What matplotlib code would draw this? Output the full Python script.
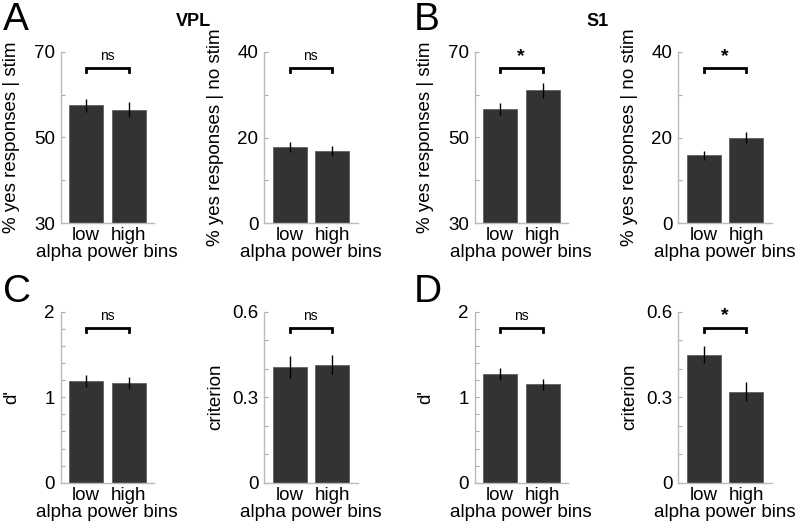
import numpy as np
import matplotlib.pyplot as plt

plt.rcParams['font.family'] = ['Liberation Sans', 'DejaVu Sans']

bins = ['low', 'high']

# panel A (VPL)
vpl_stim = [57.5, 56.5]
vpl_stim_err = [1.6, 1.75]
vpl_nostim = [17.8, 16.9]
vpl_nostim_err = [1.2, 1.2]
# panel B (S1)
s1_stim = [56.6, 61.0]
s1_stim_err = [1.45, 1.7]
s1_nostim = [15.8, 20.0]
s1_nostim_err = [1.05, 1.2]
# panel C (VPL)
vpl_dprime = [1.19, 1.17]
vpl_dprime_err = [0.068, 0.072]
vpl_crit = [0.405, 0.414]
vpl_crit_err = [0.038, 0.033]
# panel D (S1)
s1_dprime = [1.27, 1.15]
s1_dprime_err = [0.068, 0.068]
s1_crit = [0.449, 0.320]
s1_crit_err = [0.030, 0.035]

W, H = 797, 529
fig = plt.figure(figsize=(W / 100, H / 100), dpi=100)

axw = 93.5
axh = 171
fs = 13.5


def panel(left_px, top_px, vals, errs, ylim, ticks, labeled, ylabel, sig):
    ax = fig.add_axes([left_px / W, 1 - (top_px + axh) / H, axw / W, axh / H])
    x = np.arange(1, len(vals) + 1)
    ax.bar(x, np.array(vals) - ylim[0], bottom=ylim[0], width=0.8,
           color='#333333', edgecolor='#555555', linewidth=0.5, zorder=2)
    ax.errorbar(x, vals, yerr=errs, fmt='none', ecolor='black',
                elinewidth=1, capsize=0, zorder=3)
    ax.set_xlim(0.4, 2.6)
    ax.set_ylim(ylim)
    ax.set_yticks(ticks)
    ax.set_yticklabels([('%g' % t) if t in labeled else '' for t in ticks])
    ax.set_xticks(x)
    ax.set_xticklabels(bins)
    ax.tick_params(axis='y', direction='in', length=3, color='#aaaaaa',
                   labelsize=fs, pad=4)
    ax.tick_params(axis='x', length=0, labelsize=fs, pad=3)
    for s in ['top', 'right']:
        ax.spines[s].set_visible(False)
    for s in ['left', 'bottom']:
        ax.spines[s].set_color('#bbbbbb')
        ax.spines[s].set_linewidth(1)
    ax.set_xlabel('alpha power bins', fontsize=fs, labelpad=0)
    ax.set_ylabel(ylabel, fontsize=fs)
    ax.yaxis.set_label_coords(-40 / axw, 0.5)
    # significance bracket
    tr = ax.get_xaxis_transform()
    ax.plot([1, 1, 2, 2], [0.883, 0.906, 0.906, 0.883], color='black',
            lw=2, transform=tr, clip_on=False, solid_joinstyle='miter')
    if sig == '*':
        ax.text(1.5, 0.925, '*', transform=tr, ha='center', va='bottom',
                fontsize=14, fontweight='bold')
    else:
        ax.text(1.5, 0.935, sig, transform=tr, ha='center', va='bottom',
                fontsize=10)
    return ax


top1, top2 = 52, 311.7
panel(60.5, top1, vpl_stim, vpl_stim_err, (30, 70), [30, 40, 50, 60, 70],
      [30, 50, 70], '% yes responses | stim', 'ns')
panel(264, top1, vpl_nostim, vpl_nostim_err, (0, 40), [0, 10, 20, 30, 40],
      [0, 20, 40], '% yes responses | no stim', 'ns')
panel(474.5, top1, s1_stim, s1_stim_err, (30, 70), [30, 40, 50, 60, 70],
      [30, 50, 70], '% yes responses | stim', '*')
panel(678, top1, s1_nostim, s1_nostim_err, (0, 40), [0, 10, 20, 30, 40],
      [0, 20, 40], '% yes responses | no stim', '*')

dticks = [0, 0.2, 0.4, 0.6, 0.8, 1, 1.2, 1.4, 1.6, 1.8, 2]
cticks = [0, 0.1, 0.2, 0.3, 0.4, 0.5, 0.6]
panel(60.5, top2, vpl_dprime, vpl_dprime_err, (0, 2), dticks, [0, 1, 2], "d'", 'ns')
panel(264, top2, vpl_crit, vpl_crit_err, (0, 0.6), cticks, [0, 0.3, 0.6], 'criterion', 'ns')
panel(474.5, top2, s1_dprime, s1_dprime_err, (0, 2), dticks, [0, 1, 2], "d'", 'ns')
panel(678, top2, s1_crit, s1_crit_err, (0, 0.6), cticks, [0, 0.3, 0.6], 'criterion', '*')

# panel letters and titles
for lab, xp, yp in [('A', 3, 30), ('B', 414, 30), ('C', 3, 302), ('D', 414, 302)]:
    fig.text(xp / W, 1 - yp / H, lab, fontsize=28, ha='left', va='baseline')
fig.text(193 / W, 1 - 26 / H, 'VPL', fontsize=13, fontweight='bold', ha='center', va='baseline')
fig.text(598 / W, 1 - 26 / H, 'S1', fontsize=13, fontweight='bold', ha='center', va='baseline')

fig.savefig('out.png', dpi=100)
